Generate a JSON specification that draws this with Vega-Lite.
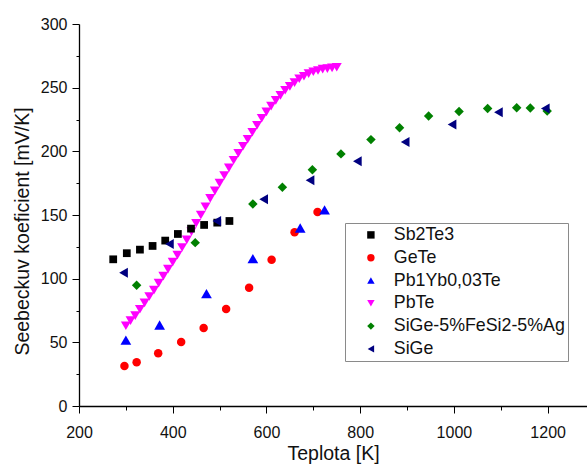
{
  "$schema": "https://vega.github.io/schema/vega-lite/v6.json",
  "autosize": "none",
  "width": 508,
  "height": 382,
  "padding": {"left": 79, "top": 24, "right": 0, "bottom": 59},
  "background": "white",
  "config": {
    "view": {"stroke": null},
    "font": "Liberation Sans",
    "axis": {"grid": false, "domainColor": "#000", "domainWidth": 1.3, "tickColor": "#000", "tickWidth": 1, "labelColor": "#111", "labelFont": "Liberation Sans", "labelFontSize": 16, "titleFont": "Liberation Sans", "titleFontSize": 19.5, "titleFontWeight": "normal", "titleColor": "#111"}
  },
  "data": {"values": [
    {"series": "PbTe", "T": 300, "S": 63},
    {"series": "PbTe", "T": 310, "S": 67},
    {"series": "PbTe", "T": 320, "S": 71},
    {"series": "PbTe", "T": 330, "S": 76},
    {"series": "PbTe", "T": 340, "S": 81},
    {"series": "PbTe", "T": 350, "S": 86},
    {"series": "PbTe", "T": 360, "S": 91},
    {"series": "PbTe", "T": 370, "S": 96.5},
    {"series": "PbTe", "T": 380, "S": 102},
    {"series": "PbTe", "T": 390, "S": 107.5},
    {"series": "PbTe", "T": 400, "S": 113},
    {"series": "PbTe", "T": 410, "S": 118.5},
    {"series": "PbTe", "T": 420, "S": 124.5},
    {"series": "PbTe", "T": 430, "S": 130.5},
    {"series": "PbTe", "T": 440, "S": 137},
    {"series": "PbTe", "T": 450, "S": 143.5},
    {"series": "PbTe", "T": 460, "S": 150},
    {"series": "PbTe", "T": 470, "S": 156.5},
    {"series": "PbTe", "T": 480, "S": 163},
    {"series": "PbTe", "T": 490, "S": 169},
    {"series": "PbTe", "T": 500, "S": 175},
    {"series": "PbTe", "T": 510, "S": 181},
    {"series": "PbTe", "T": 520, "S": 187},
    {"series": "PbTe", "T": 530, "S": 193},
    {"series": "PbTe", "T": 540, "S": 198.5},
    {"series": "PbTe", "T": 550, "S": 204},
    {"series": "PbTe", "T": 560, "S": 209.5},
    {"series": "PbTe", "T": 570, "S": 215},
    {"series": "PbTe", "T": 580, "S": 220.5},
    {"series": "PbTe", "T": 590, "S": 226},
    {"series": "PbTe", "T": 600, "S": 231},
    {"series": "PbTe", "T": 610, "S": 235.5},
    {"series": "PbTe", "T": 620, "S": 240},
    {"series": "PbTe", "T": 630, "S": 244},
    {"series": "PbTe", "T": 640, "S": 248},
    {"series": "PbTe", "T": 650, "S": 251},
    {"series": "PbTe", "T": 660, "S": 254},
    {"series": "PbTe", "T": 670, "S": 257},
    {"series": "PbTe", "T": 680, "S": 259},
    {"series": "PbTe", "T": 690, "S": 261},
    {"series": "PbTe", "T": 700, "S": 262.5},
    {"series": "PbTe", "T": 710, "S": 263.5},
    {"series": "PbTe", "T": 720, "S": 264.5},
    {"series": "PbTe", "T": 730, "S": 265},
    {"series": "PbTe", "T": 740, "S": 265.5},
    {"series": "PbTe", "T": 750, "S": 266},
    {"series": "Sb2Te3", "T": 273, "S": 115.2},
    {"series": "Sb2Te3", "T": 302, "S": 120},
    {"series": "Sb2Te3", "T": 330, "S": 122.8},
    {"series": "Sb2Te3", "T": 357, "S": 125.7},
    {"series": "Sb2Te3", "T": 384, "S": 129.9},
    {"series": "Sb2Te3", "T": 411, "S": 135.1},
    {"series": "Sb2Te3", "T": 439, "S": 139.3},
    {"series": "Sb2Te3", "T": 467, "S": 142.2},
    {"series": "Sb2Te3", "T": 495, "S": 144},
    {"series": "Sb2Te3", "T": 521, "S": 145.3},
    {"series": "GeTe", "T": 297, "S": 31.4},
    {"series": "GeTe", "T": 323, "S": 34.3},
    {"series": "GeTe", "T": 369, "S": 41.4},
    {"series": "GeTe", "T": 418, "S": 50.3},
    {"series": "GeTe", "T": 466, "S": 61.3},
    {"series": "GeTe", "T": 514, "S": 76.2},
    {"series": "GeTe", "T": 563, "S": 92.9},
    {"series": "GeTe", "T": 611, "S": 114.9},
    {"series": "GeTe", "T": 660, "S": 136.4},
    {"series": "GeTe", "T": 709, "S": 152.4},
    {"series": "Pb1Yb0,03Te", "T": 300, "S": 51.8},
    {"series": "Pb1Yb0,03Te", "T": 372, "S": 63.6},
    {"series": "Pb1Yb0,03Te", "T": 472, "S": 88.2},
    {"series": "Pb1Yb0,03Te", "T": 571, "S": 115.7},
    {"series": "Pb1Yb0,03Te", "T": 672, "S": 139.8},
    {"series": "Pb1Yb0,03Te", "T": 724, "S": 154},
    {"series": "SiGe-5%FeSi2-5%Ag", "T": 323, "S": 94.8},
    {"series": "SiGe-5%FeSi2-5%Ag", "T": 448, "S": 128.3},
    {"series": "SiGe-5%FeSi2-5%Ag", "T": 571, "S": 158.7},
    {"series": "SiGe-5%FeSi2-5%Ag", "T": 634, "S": 171.8},
    {"series": "SiGe-5%FeSi2-5%Ag", "T": 698, "S": 185.6},
    {"series": "SiGe-5%FeSi2-5%Ag", "T": 759, "S": 198},
    {"series": "SiGe-5%FeSi2-5%Ag", "T": 823, "S": 209.2},
    {"series": "SiGe-5%FeSi2-5%Ag", "T": 884, "S": 218.6},
    {"series": "SiGe-5%FeSi2-5%Ag", "T": 946, "S": 227.8},
    {"series": "SiGe-5%FeSi2-5%Ag", "T": 1011, "S": 231.2},
    {"series": "SiGe-5%FeSi2-5%Ag", "T": 1072, "S": 233.6},
    {"series": "SiGe-5%FeSi2-5%Ag", "T": 1134, "S": 234.3},
    {"series": "SiGe-5%FeSi2-5%Ag", "T": 1163, "S": 234},
    {"series": "SiGe-5%FeSi2-5%Ag", "T": 1199, "S": 231.7},
    {"series": "SiGe", "T": 295, "S": 104.7},
    {"series": "SiGe", "T": 393, "S": 127.3},
    {"series": "SiGe", "T": 494, "S": 145.3},
    {"series": "SiGe", "T": 594, "S": 162.3},
    {"series": "SiGe", "T": 693, "S": 177.3},
    {"series": "SiGe", "T": 794, "S": 192.2},
    {"series": "SiGe", "T": 896, "S": 207.4},
    {"series": "SiGe", "T": 996, "S": 221},
    {"series": "SiGe", "T": 1095, "S": 230.7},
    {"series": "SiGe", "T": 1195, "S": 233.6}
  ]},
  "mark": {"type": "point", "filled": true, "opacity": 1, "strokeWidth": 0},
  "encoding": {
    "x": {"field": "T", "type": "quantitative",
      "scale": {"domain": [200, 1284], "nice": false, "zero": false},
      "axis": {"title": "Teplota [K]", "values": [200, 300, 400, 500, 600, 700, 800, 900, 1000, 1100, 1200],
        "labelExpr": "datum.value % 200 === 0 ? datum.label : ''",
        "format": "d",
        "tickSize": {"condition": {"test": "datum.value % 200 === 0", "value": 7}, "value": 4},
        "labelPadding": 11, "titlePadding": 4, "labelFlush": false}},
    "y": {"field": "S", "type": "quantitative",
      "scale": {"domain": [0, 300], "nice": false},
      "axis": {"title": "Seebeckuv koeficient [mV/K]", "values": [0, 25, 50, 75, 100, 125, 150, 175, 200, 225, 250, 275, 300],
        "labelExpr": "datum.value % 50 === 0 ? datum.label : ''",
        "tickSize": {"condition": {"test": "datum.value % 50 === 0", "value": 7}, "value": 3},
        "labelPadding": 5, "titlePadding": 8, "titleY": 207}},
    "color": {"field": "series", "type": "nominal",
      "scale": {"domain": ["Sb2Te3", "GeTe", "Pb1Yb0,03Te", "PbTe", "SiGe-5%FeSi2-5%Ag", "SiGe"],
        "range": ["#000000", "#ff0000", "#0000ff", "#ff00ff", "#008000", "#000080"]},
      "legend": {"orient": "none", "legendX": 266, "legendY": 199, "title": null,
        "strokeColor": "#8a8a8a", "padding": 3, "symbolOffset": 14, "labelOffset": 14,
        "labelFont": "Liberation Sans", "labelFontSize": 17.8, "labelColor": "#111", "rowPadding": 3.8,
        "symbolSize": 55, "symbolStrokeWidth": 0, "labelLimit": 400}},
    "shape": {"field": "series", "type": "nominal",
      "scale": {"domain": ["Sb2Te3", "GeTe", "Pb1Yb0,03Te", "PbTe", "SiGe-5%FeSi2-5%Ag", "SiGe"],
        "range": ["square", "circle", "triangle-up", "triangle-down", "diamond", "triangle-left"]}},
    "size": {
      "condition": [
        {"test": "datum.series === 'Sb2Te3'", "value": 60},
        {"test": "datum.series === 'GeTe'", "value": 72},
        {"test": "datum.series === 'Pb1Yb0,03Te'", "value": 115},
        {"test": "datum.series === 'PbTe'", "value": 100},
        {"test": "datum.series === 'SiGe-5%FeSi2-5%Ag'", "value": 90}
      ],
      "value": 100}
  }
}
